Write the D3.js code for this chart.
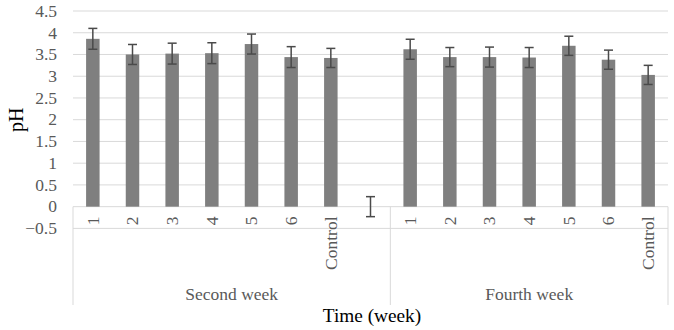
<!DOCTYPE html>
<html>
<head>
<meta charset="utf-8">
<script src="https://cdn.jsdelivr.net/npm/d3@7/dist/d3.min.js"></script>
<style>
  html, body { margin: 0; padding: 0; background: #ffffff; }
  svg { display: block; }
  text { font-family: "Liberation Serif", "Times New Roman", serif; }
</style>
</head>
<body>
<script>
// ---- data ----
const slotLabels = ["1", "2", "3", "4", "5", "6", "Control", "", "1", "2", "3", "4", "5", "6", "Control"];
const groupLabels = ["Second week", "Fourth week"];
const groupSpans = [8, 7];
const phValues = [3.86, 3.50, 3.52, 3.53, 3.74, 3.44, 3.42, 0, 3.62, 3.44, 3.44, 3.43, 3.70, 3.38, 3.03];
const phErrors = [0.24, 0.23, 0.24, 0.24, 0.23, 0.24, 0.22, 0.23, 0.23, 0.22, 0.23, 0.23, 0.22, 0.22, 0.22];
const yTicks = [-0.5, 0, 0.5, 1, 1.5, 2, 2.5, 3, 3.5, 4, 4.5];

// ---- layout ----
const W = 674, H = 330;
const plotLeft = 73, plotRight = 668, plotTop = 11, plotBottom = 228.4;
const labelBottom = 305;

const svg = d3.select("body").append("svg").attr("width", W).attr("height", H);

const slots = d3.range(slotLabels.length);
const x = d3.scaleBand().domain(slots).range([plotLeft, plotRight]).padding(0);
const y = d3.scaleLinear().domain([-0.5, 4.5]).range([plotBottom, plotTop]);
const barW = x.bandwidth() * 0.34;

// gridlines
svg.append("g").selectAll("line").data(yTicks).join("line")
  .attr("x1", plotLeft).attr("x2", plotRight)
  .attr("y1", d => y(d)).attr("y2", d => y(d))
  .attr("stroke", "#d9d9d9").attr("stroke-width", 1);

// y tick labels
svg.append("g").selectAll("text").data(yTicks).join("text")
  .attr("x", 57).attr("y", d => y(d))
  .attr("dy", "0.33em")
  .attr("text-anchor", "end")
  .attr("font-size", 17.5)
  .attr("fill", "#595959")
  .text(d => d3.format("")(d));

// group separator lines (multi-level category axis)
const boundaries = [0];
groupSpans.reduce((acc, n) => { boundaries.push(acc + n); return acc + n; }, 0);
const bx = b => b < slots.length ? x(b) : plotRight;
svg.append("g").selectAll("line").data(boundaries).join("line")
  .attr("x1", bx).attr("x2", bx)
  .attr("y1", y(0)).attr("y2", labelBottom)
  .attr("stroke", "#d9d9d9").attr("stroke-width", 1);

// bars
svg.append("g").selectAll("rect").data(slots.filter(i => phValues[i] !== 0)).join("rect")
  .attr("x", i => x(i) + (x.bandwidth() - barW) / 2)
  .attr("width", barW)
  .attr("y", i => y(phValues[i]))
  .attr("height", i => y(0) - y(phValues[i]))
  .attr("fill", "#7f7f7f");

// error bars
const eb = svg.append("g").attr("stroke", "#4a4a4a").attr("stroke-width", 1.5);
slots.forEach(i => {
  const cx = x(i) + x.bandwidth() / 2;
  const hi = y(phValues[i] + phErrors[i]);
  const lo = y(phValues[i] - phErrors[i]);
  eb.append("line").attr("x1", cx).attr("x2", cx).attr("y1", hi).attr("y2", lo);
  eb.append("line").attr("x1", cx - 4.5).attr("x2", cx + 4.5).attr("y1", hi).attr("y2", hi);
  eb.append("line").attr("x1", cx - 4.5).attr("x2", cx + 4.5).attr("y1", lo).attr("y2", lo);
});

// category labels (rotated)
svg.append("g").selectAll("text").data(slots).join("text")
  .attr("transform", i => `translate(${x(i) + x.bandwidth() / 2},216.5) rotate(-90)`)
  .attr("text-anchor", "end")
  .attr("dy", "0.33em")
  .attr("font-size", 17.5)
  .attr("fill", "#595959")
  .text(i => slotLabels[i]);

// group labels
svg.append("g").selectAll("text").data(groupLabels).join("text")
  .attr("x", (d, gi) => (bx(boundaries[gi]) + bx(boundaries[gi + 1])) / 2)
  .attr("y", 300)
  .attr("text-anchor", "middle")
  .attr("font-size", 17.5)
  .attr("fill", "#595959")
  .text(d => d);

// axis titles
svg.append("text")
  .attr("transform", `translate(15.5,${(plotTop + plotBottom) / 2}) rotate(-90)`)
  .attr("text-anchor", "middle")
  .attr("dy", "0.35em")
  .attr("font-size", 20)
  .attr("fill", "#000")
  .text("pH");

svg.append("text")
  .attr("x", 372).attr("y", 322)
  .attr("text-anchor", "middle")
  .attr("font-size", 19.3)
  .attr("fill", "#000")
  .text("Time (week)");
</script>
</body>
</html>
